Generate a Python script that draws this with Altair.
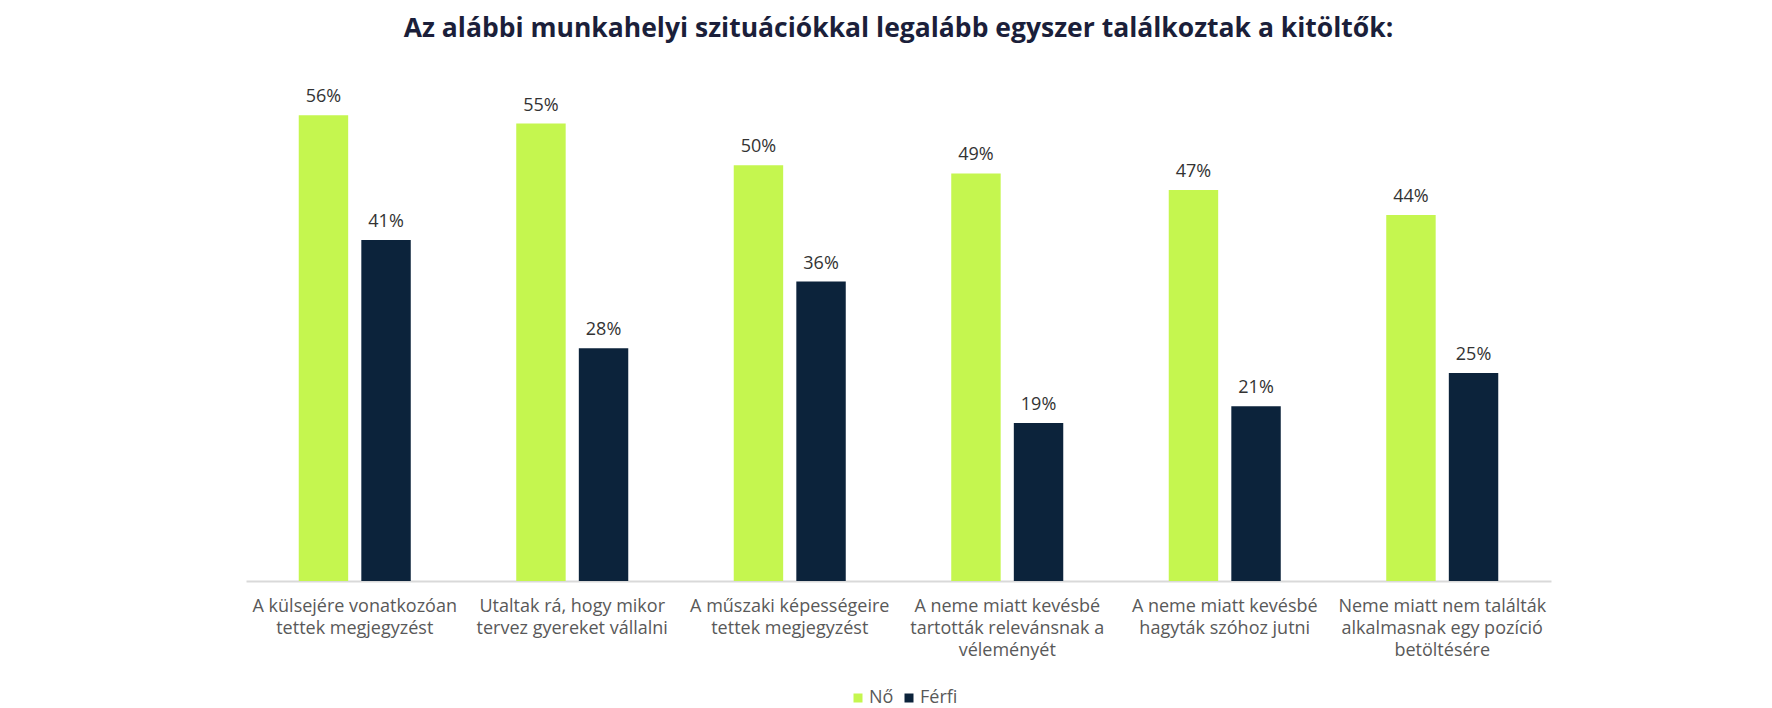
import altair as alt
import pandas as pd

categories = [
    "A külsejére vonatkozóan|tettek megjegyzést",
    "Utaltak rá, hogy mikor|tervez gyereket vállalni",
    "A műszaki képességeire|tettek megjegyzést",
    "A neme miatt kevésbé|tartották relevánsnak a|véleményét",
    "A neme miatt kevésbé|hagyták szóhoz jutni",
    "Neme miatt nem találták|alkalmasnak egy pozíció|betöltésére",
]
series = ["Nő", "Férfi"]
no_values = [56, 55, 50, 49, 47, 44]
ferfi_values = [41, 28, 36, 19, 21, 25]
colors = ["#c5f64f", "#0c233b"]

rows = []
for c, v in zip(categories, no_values):
    rows.append({"cat": c, "series": "Nő", "value": v})
for c, v in zip(categories, ferfi_values):
    rows.append({"cat": c, "series": "Férfi", "value": v})
df = pd.DataFrame(rows)
df["label"] = df["value"].astype(str) + "%"

FONT = "Open Sans"

x = alt.X(
    "cat:N",
    sort=categories,
    scale=alt.Scale(paddingInner=0.485, paddingOuter=0.2425),
    axis=alt.Axis(
        title=None,
        labelExpr="split(datum.label, '|')",
        labelAngle=0,
        labelFont=FONT,
        labelFontSize=18,
        labelColor="#595959",
        labelLimit=400,
        labelPadding=16,
        labelLineHeight=22,
        labelBaseline="top",
        domainColor="#d9d9d9",
        domainWidth=2,
        ticks=False,
        grid=False,
    ),
)
xoff = alt.XOffset("series:N", sort=series, scale=alt.Scale(paddingInner=0.21, paddingOuter=0))
y = alt.Y("value:Q", scale=alt.Scale(domain=[0, 60]), axis=None)

base = alt.Chart(df)

bars = base.mark_bar().encode(
    x=x,
    xOffset=xoff,
    y=y,
    color=alt.Color(
        "series:N",
        sort=series,
        scale=alt.Scale(domain=series, range=colors),
        legend=alt.Legend(
            title=None,
            orient="none",
            direction="horizontal",
            legendX=603,
            legendY=607,
            symbolType="square",
            symbolSize=81,
            symbolStrokeWidth=0,
            labelFont=FONT,
            labelFontSize=18,
            labelColor="#595959",
            labelOffset=2,
            columnPadding=6,
        ),
    ),
)

texts = base.mark_text(
    baseline="bottom", dy=-9, font=FONT, fontSize=18, color="#333333"
).encode(x=x, xOffset=xoff, y=y, text="label:N")

chart = (
    alt.layer(bars, texts)
    .properties(
        width=1305,
        height=499,
        autosize=alt.AutoSizeParams(type="none"),
        padding={"left": 238, "top": 74, "right": 10, "bottom": 140},
        title=alt.Title(
            "Az alábbi munkahelyi szituációkkal legalább egyszer találkoztak a kitöltők:",
            font=FONT,
            fontSize=26.5,
            fontWeight="bold",
            color="#1b1f3a",
            anchor="middle",
            offset=40,
        ),
    )
    .configure_view(stroke=None)
)

chart.save("out.html", embed_options={"renderer": "svg", "actions": False})
